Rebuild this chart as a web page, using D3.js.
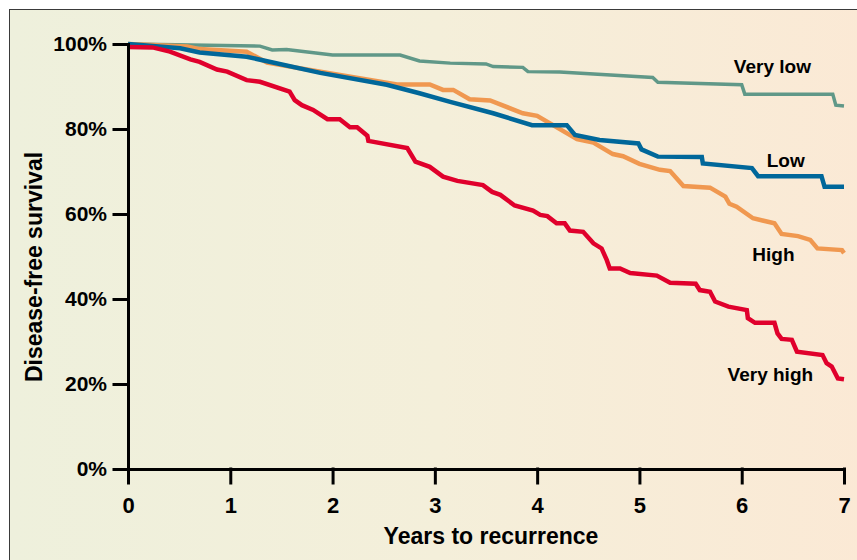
<!DOCTYPE html>
<html>

<head>
	<meta charset='utf-8' />
	<title></title>
	<script src="https://d3js.org/d3.v7.min.js"></script>
	<style>
		body {
			margin: 0;
			background: white;
		}

		svg {
			display: block;
			font-family: "Liberation Sans", Arial, sans-serif;
			font-weight: bold;
		}
	</style>
</head>

<body>
	<svg id="chart" width="857" height="560"></svg>

	<script>
		// [years, % disease-free]
		var veryLow = [[0, 100], [1.29, 99.5], [1.41, 98.6], [1.55, 98.7], [2.0, 97.4], [2.66, 97.4], [2.85, 96.0], [3.15, 95.5],
			[3.5, 95.3], [3.57, 94.7], [3.86, 94.5], [3.91, 93.5], [4.22, 93.4], [5.13, 92.1], [5.18, 91.0], [6.0, 90.4],
			[6.03, 88.2], [6.89, 88.2], [6.92, 85.6], [7.0, 85.4]]

		var low = [[0, 100], [0.51, 99.0], [0.70, 98.0], [1.16, 97.0], [1.88, 93.2], [2.53, 90.4], [2.85, 88.4], [3.15, 86.4],
			[3.57, 83.7], [3.95, 80.9], [4.29, 80.9], [4.37, 78.6], [4.61, 77.4], [4.99, 76.6], [5.02, 75.2], [5.18, 73.5],
			[5.61, 73.4], [5.62, 71.9], [6.10, 70.8], [6.16, 68.9], [6.78, 68.9], [6.81, 66.4], [7.0, 66.4]]

		var high = [[0, 100], [0.58, 99.4], [0.70, 98.8], [1.16, 98.2], [1.36, 95.6], [1.78, 93.9], [2.63, 90.5], [2.95, 90.5],
			[3.08, 89.2], [3.18, 89.2], [3.34, 87.0], [3.54, 86.7], [3.86, 83.7], [4.00, 83.1], [4.39, 77.6], [4.55, 76.8],
			[4.74, 74.1], [4.84, 73.6], [5.00, 71.8], [5.20, 70.4], [5.30, 70.1], [5.43, 66.6], [5.69, 66.2], [5.84, 64.1],
			[5.88, 62.4], [5.95, 61.7], [6.11, 59.0], [6.32, 57.8], [6.39, 55.3], [6.55, 54.8], [6.67, 53.9], [6.74, 51.9],
			[6.98, 51.5], [7.0, 50.8]]

		var veryHigh = [[0, 99.3], [0.24, 99.2], [0.41, 98.2], [0.61, 96.4], [0.70, 95.8], [0.87, 94.0], [0.97, 93.5], [1.16, 91.5],
			[1.29, 91.1], [1.58, 88.8], [1.63, 86.8], [1.70, 85.6], [1.81, 84.5], [1.95, 82.3], [2.07, 82.3], [2.17, 80.4],
			[2.24, 80.4], [2.34, 78.4], [2.35, 77.2], [2.73, 75.5], [2.81, 72.3], [2.95, 71.1], [3.08, 68.8], [3.22, 67.8],
			[3.47, 66.8], [3.56, 65.2], [3.64, 64.5], [3.78, 62.0], [3.96, 60.8], [4.03, 59.8], [4.10, 59.5], [4.19, 57.8],
			[4.27, 57.8], [4.32, 56.1], [4.45, 55.8], [4.55, 53.1], [4.63, 51.9], [4.68, 49.2], [4.71, 47.2], [4.81, 47.2],
			[4.91, 46.1], [5.17, 45.5], [5.30, 43.8], [5.55, 43.6], [5.59, 42.1], [5.69, 41.7], [5.74, 39.4], [5.87, 38.2],
			[6.05, 37.4], [6.06, 35.5], [6.13, 34.4], [6.32, 34.4], [6.35, 31.9], [6.39, 30.6], [6.49, 30.4], [6.54, 27.6],
			[6.79, 26.8], [6.83, 24.9], [6.88, 24.1], [6.94, 21.3], [7.0, 21.1]]

		var names = ["Very low", "High", "Low", "Very high"]
		var values = [veryLow, high, low, veryHigh]
		var colors = ["#609888", "#f09850", "#00679a", "#e0002c"]

		var xTicks = [0, 1, 2, 3, 4, 5, 6, 7]
		var yTicks = [0, 20, 40, 60, 80, 100]

		// where each label sits, in data units (center x, baseline y)
		var labelAt = { "Very low": [6.30, 93.1], "Low": [6.43, 71.1], "High": [6.31, 49.0], "Very high": [6.28, 20.8] }

		var svg = d3.select("#chart"),
			margin = { top: 44, left: 128, bottom: 91, right: 13 },
			width = +svg.attr("width"),
			height = +svg.attr("height");

		var defs = svg.append("defs")
		var grad = defs.append("linearGradient").attr("id", "bg")
		grad.append("stop").attr("offset", "0%").attr("stop-color", "#eef0dc")
		grad.append("stop").attr("offset", "50%").attr("stop-color", "#f4efda")
		grad.append("stop").attr("offset", "100%").attr("stop-color", "#fbe9d5")

		svg.append("rect")
			.attr("x", 9.5).attr("y", 9.5)
			.attr("width", width).attr("height", height)
			.attr("fill", "url(#bg)")
			.attr("stroke", "#3a3a3a")
			.attr("stroke-width", 1)

		var x = d3.scaleLinear()
			.domain([0, 7])
			.range([margin.left, width - margin.right])

		var y = d3.scaleLinear()
			.domain([0, 100])
			.range([height - margin.bottom, margin.top])

		var line = d3.line()
			.x(d => x(d[0]))
			.y(d => y(d[1]))

		svg.selectAll(".curve")
			.data(values)
			.enter().append("path")
			.attr("class", "curve")
			.attr("fill", "none")
			.attr("stroke", (d, i) => colors[i])
			.attr("stroke-width", (d, i) => i == 0 ? 3.5 : 4.5)
			.attr("stroke-linejoin", "miter")
			.attr("d", line)

		var yAxis = svg.append("g")
			.attr("transform", `translate(${margin.left},0)`)
			.call(d3.axisLeft(y).tickValues(yTicks).tickFormat(d => d + "%").tickSize(14).tickSizeOuter(0).tickPadding(7))

		var xAxis = svg.append("g")
			.attr("transform", `translate(0,${height - margin.bottom})`)
			.call(d3.axisBottom(x).tickValues(xTicks).tickFormat(d3.format("d")).tickSize(14).tickSizeOuter(0).tickPadding(14))

		svg.selectAll(".domain, .tick line")
			.attr("stroke", "black")
			.attr("stroke-width", 3)
			.attr("stroke-linecap", "square")

		yAxis.selectAll("text").attr("font-size", 21).attr("font-family", null).attr("fill", "black")
		xAxis.selectAll("text").attr("font-size", 22).attr("font-family", null).attr("fill", "black")

		svg.append("text")
			.attr("x", 491).attr("y", 544)
			.attr("text-anchor", "middle")
			.attr("font-size", 23)
			.text("Years to recurrence")

		svg.append("text")
			.attr("transform", "translate(42,267) rotate(-90)")
			.attr("text-anchor", "middle")
			.attr("font-size", 23)
			.text("Disease-free survival")

		svg.selectAll(".label")
			.data(names)
			.enter().append("text")
			.attr("class", "label")
			.attr("x", d => x(labelAt[d][0]))
			.attr("y", d => y(labelAt[d][1]))
			.attr("text-anchor", "middle")
			.attr("font-size", 19)
			.text(d => d)
	</script>
</body>

</html>
